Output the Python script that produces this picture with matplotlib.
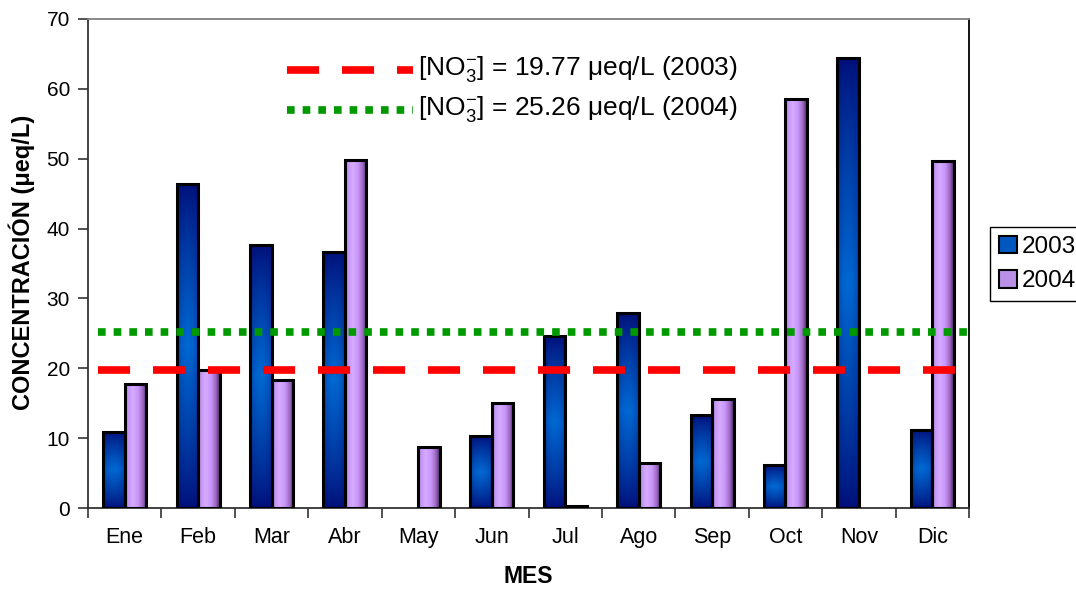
import numpy as np
import matplotlib
matplotlib.use("Agg")
import matplotlib.pyplot as plt
from matplotlib.colors import to_rgb
from matplotlib.patches import Patch
from matplotlib.lines import Line2D

plt.rcParams["font.family"] = ["Liberation Sans", "DejaVu Sans"]
plt.rcParams["mathtext.fontset"] = "custom"
plt.rcParams["mathtext.rm"] = "Liberation Sans"
plt.rcParams["mathtext.it"] = "Liberation Sans:italic"
plt.rcParams["mathtext.bf"] = "Liberation Sans:bold"

# Monthly nitrate concentrations (µeq/L)
months = ["Ene", "Feb", "Mar", "Abr", "May", "Jun",
          "Jul", "Ago", "Sep", "Oct", "Nov", "Dic"]
conc_2003 = [10.9, 46.4, 37.7, 36.7, 0.0, 10.3, 24.6, 27.9, 13.3, 6.1, 64.4, 11.2]
conc_2004 = [17.7, 19.8, 18.3, 49.8, 8.8, 15.1, 0.3, 6.5, 15.6, 58.5, 0.0, 49.7]

# Annual means
mean_2003 = 19.77
mean_2004 = 25.26

fig = plt.figure(figsize=(10.76, 5.89), dpi=100)
ax = fig.add_axes([88 / 1076, 81 / 589, 881 / 1076, 489 / 589])

x = np.arange(len(months))
w = 0.293

bars03 = ax.bar(x - w / 2, conc_2003, w, facecolor="none", edgecolor="black",
                linewidth=2.2, zorder=4)
bars04 = ax.bar(x + w / 2, conc_2004, w, facecolor="none", edgecolor="black",
                linewidth=2.2, zorder=4)


def blue_fill(nx=40, ny=200):
    u = np.linspace(-1, 1, nx)[None, :]
    v = np.linspace(-1, 1, ny)[:, None]
    t = (1 - np.abs(v)) ** 0.8 * (1 - 0.35 * u ** 2)
    dark = np.array(to_rgb("#000E78"))
    light = np.array(to_rgb("#0068D2"))
    return dark + (light - dark) * t[..., None]


def violet_fill(nx=60, ny=2):
    pos = [0.0, 0.12, 0.35, 0.6, 0.82, 1.0]
    cols = [to_rgb(c) for c in ["#8E62AE", "#C394F4", "#D6ABFF",
                                "#C896FA", "#9C68C0", "#4E2466"]]
    u = np.linspace(0, 1, nx)
    rgb = np.stack([np.interp(u, pos, [c[k] for c in cols]) for k in range(3)], axis=-1)
    return np.repeat(rgb[None, :, :], ny, axis=0)


def paint(container, img):
    for patch in container.patches:
        h = patch.get_height()
        if h <= 0:
            patch.set_linewidth(0)
            continue
        x0, y0, bw = patch.get_x(), patch.get_y(), patch.get_width()
        im = ax.imshow(img, extent=[x0, x0 + bw, y0, y0 + h], aspect="auto",
                       interpolation="bilinear", zorder=3, origin="lower")
        im.set_clip_path(patch)


paint(bars03, blue_fill())
paint(bars04, violet_fill())

# Annual mean lines
x_start, x_end = -0.36, 11.5
ax.plot([x_start, x_end], [mean_2003, mean_2003], color="#FF0000", lw=5.5,
        linestyle=(0, (4.2, 3.0)), solid_capstyle="butt", dash_capstyle="butt", zorder=5)
ax.plot([x_start, x_end], [mean_2004, mean_2004], color="#009900", lw=5.5,
        linestyle=(0, (1.0, 1.05)), solid_capstyle="butt", dash_capstyle="butt", zorder=5)

ax.set_xlim(-0.5, 11.5)
ax.set_ylim(0, 70)
ax.set_yticks(np.arange(0, 71, 10))
ax.set_xticks(x)
ax.set_xticklabels(months)
ax.set_xticks(np.arange(-0.5, 12, 1), minor=True)
ax.tick_params(axis="x", which="major", length=0, pad=14, labelsize=15.5)
ax.tick_params(axis="x", which="minor", length=7, width=1.2, color="#333333")
ax.tick_params(axis="y", length=7, width=1.2, color="#333333", pad=6, labelsize=15)

for side in ["left", "bottom"]:
    ax.spines[side].set_color("#333333")
    ax.spines[side].set_linewidth(1.3)
ax.spines["top"].set_color("#808080")
ax.spines["top"].set_linewidth(1.3)
ax.spines["right"].set_color("black")
ax.spines["right"].set_linewidth(1.3)

ax.set_xlabel("MES", fontsize=16.5, fontweight="bold")
ax.set_ylabel("CONCENTRACIÓN (μeq/L)", fontsize=17, fontweight="bold")
ax.xaxis.label.set_va("center")
ax.yaxis.label.set_va("center")
ax.xaxis.set_label_coords(0.5, -0.141)
ax.yaxis.set_label_coords(-0.075, 0.503)

# Key for the mean lines
tr = ax.transAxes
ax.add_line(Line2D([0.226, 0.369], [0.895, 0.895], transform=tr, color="#FF0000", lw=5.5,
                   linestyle=(0, (4.2, 3.0)), dash_capstyle="butt", zorder=6))
ax.add_line(Line2D([0.226, 0.369], [0.813, 0.813], transform=tr, color="#009900", lw=5.5,
                   linestyle=(0, (1.0, 1.05)), dash_capstyle="butt", zorder=6))
ax.text(0.375, 0.897, r"[NO$_3^{-}$] = " + f"{mean_2003:.2f} μeq/L (2003)",
        transform=tr, fontsize=19, va="center", ha="left")
ax.text(0.375, 0.815, r"[NO$_3^{-}$] = " + f"{mean_2004:.2f} μeq/L (2004)",
        transform=tr, fontsize=19, va="center", ha="left")

handles = [Patch(facecolor="#0058C0", edgecolor="black", linewidth=1.5),
           Patch(facecolor="#B990E6", edgecolor="black", linewidth=1.5)]
leg = fig.legend(handles, ["2003", "2004"], loc="upper left",
                 bbox_to_anchor=(990 / 1076, 1 - 227 / 589), fontsize=17.5,
                 frameon=True, fancybox=False, edgecolor="black", framealpha=1,
                 handlelength=0.75, handleheight=0.75, handletextpad=0.2,
                 borderaxespad=0, borderpad=0.35, labelspacing=0.5)
leg.get_frame().set_linewidth(1.0)

fig.savefig("out.png", dpi=100)
